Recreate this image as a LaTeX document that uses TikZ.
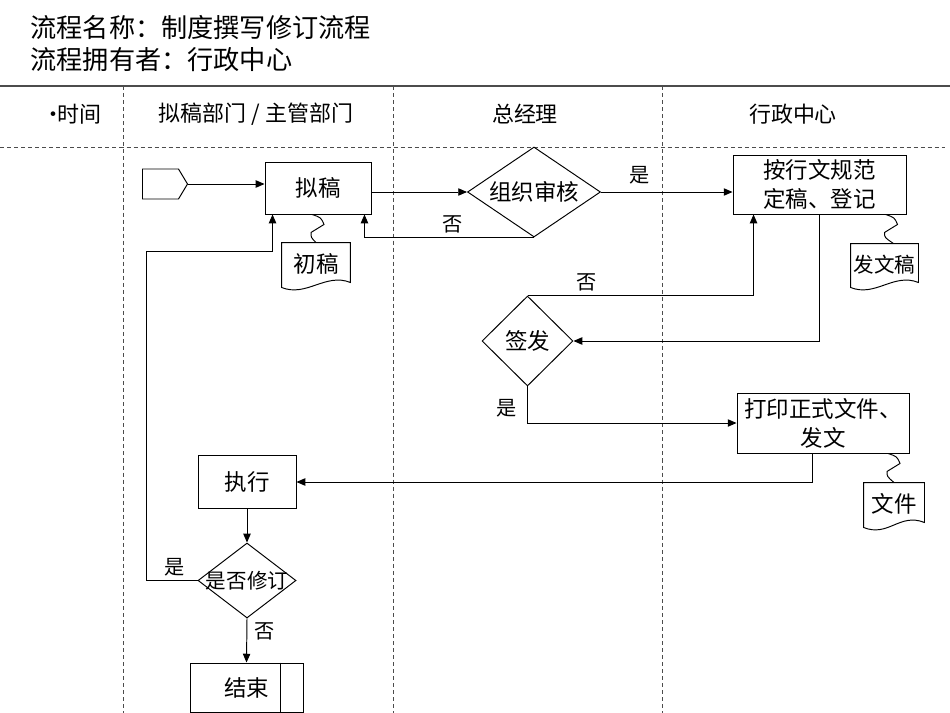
\documentclass[tikz,border=0pt]{standalone}
\usepackage{fontspec}
\setmainfont{Noto Sans CJK SC}
\usetikzlibrary{calc, positioning, arrows.meta, shapes.geometric, shapes.symbols}

\begin{document}
\begin{tikzpicture}[x=0.02cm, y=-0.02cm, line width=0.55pt,
  proc/.style={draw, rectangle, align=center, inner sep=1pt, font=\fontsize{12.8}{16.5}\selectfont},
  decision/.style={draw, diamond, inner sep=0pt, font=\fontsize{12.8}{16}\selectfont},
  doc/.style={inner sep=0pt, font=\fontsize{12.8}{15}\selectfont},
  lbl/.style={inner sep=1pt, font=\fontsize{11.5}{14}\selectfont},
  head/.style={inner sep=0pt, font=\fontsize{12.5}{15}\selectfont},
  lane/.style={gray!60!black, line width=0.5pt, dash pattern=on 2.3pt off 1.7pt},
  flow/.style={-{Triangle[length=5pt,width=4.2pt]}}]
\useasboundingbox (0,0) rectangle (950,713);
% Title
\node[anchor=west, inner sep=0pt, font=\fontsize{14.9}{18}\selectfont] (title) at (30,28) {流程名称：制度撰写修订流程};
\node[anchor=west, inner sep=0pt, font=\fontsize{14.9}{18}\selectfont] (owner) at (30,60) {流程拥有者：行政中心};
% Lanes
\draw[gray!60!black, line width=1pt] (0,86) -- (950,86);
\draw[lane] (0,147) -- (945,147);
\foreach \x in {123,393,662}
  \draw[lane] (\x,86) -- (\x,713);
\node[head] (h0) at (72,114) {•\kern-0.3em 时间};
\node[head] (h1) at (256,114) {拟稿部门 / 主管部门};
\node[head] (h2) at (525,114) {总经理};
\node[head] (h3) at (793,114) {行政中心};
% Steps
\node[draw, signal, signal to=east, signal pointer angle=118, minimum width=0.9cm, minimum height=0.6cm, inner sep=0pt] (start) at (160.5,184) {};
\node[proc, minimum width=2.12cm, minimum height=1.04cm] (nigao) at (318,188) {拟稿};
\node[decision, minimum width=2.66cm, minimum height=1.8cm] (shenhe) at (534,192) {\makebox[0pt]{组织审核}};
\node[proc, minimum width=3.46cm, minimum height=1.18cm] (dinggao) at (819.5,184.5) {按行文规范\\定稿、登记};
\node[decision, minimum width=1.82cm, minimum height=1.8cm] (qianfa) at (527.5,341) {\makebox[0pt]{签发}};
\node[proc, minimum width=3.44cm, minimum height=1.2cm] (dayin) at (823,423) {打印正式文件、\\发文};
\node[proc, minimum width=1.96cm, minimum height=1.06cm] (zhixing) at (247,482) {执行};
\node[decision, minimum width=1.96cm, minimum height=1.5cm, font=\fontsize{11.7}{14}\selectfont] (xiuding) at (247,580.5) {\makebox[0pt]{是否修订}};
\node[proc, minimum width=2.26cm, minimum height=0.98cm] (jieshu) at (246.5,687.5) {结束};
\draw ($(jieshu.north east)+(-23,0)$) -- ($(jieshu.south east)+(-23,0)$);
% Documents
\node[doc, minimum width=1.36cm, minimum height=0.84cm] (chugao) at (316,264) {初稿};
\node[doc, minimum width=1.34cm, minimum height=0.82cm, font=\fontsize{11.7}{14}\selectfont] (fawengao) at (884.5,264.5) {发文稿};
\node[doc, minimum width=1.2cm, minimum height=0.84cm] (wenjian) at (894,504) {文件};
\foreach \d in {chugao,fawengao,wenjian}
  \draw ($(\d.south west)+(0,2)$) -- (\d.north west) -- (\d.north east) -- ($(\d.south east)+(0,-3)$)
    .. controls ($(\d.south east)+(-25,-13)$) and ($(\d.south west)+(25,12)$) .. ($(\d.south west)+(0,2)$) -- cycle;
\coordinate (s1) at ($(nigao.south)+(-6,0)$);
\coordinate (e1) at (chugao.north);
\coordinate (s2) at ($(dinggao.south)+(66,0)$);
\coordinate (e2) at ($(fawengao.north)+(9,0)$);
\coordinate (s3) at ($(dayin.south)+(65,0)$);
\coordinate (e3) at (wenjian.north);
\foreach \i in {1,2,3}
  \draw (s\i) .. controls ($(s\i)+(9,3)$) .. ($(s\i)+(12,10)$) -- ($(s\i)+(-1,18)$)
    .. controls ($(s\i)+(-1,23)$) .. (e\i);
% Flow
\coordinate (turn) at (146,251);
\draw[flow] (start.east) -- (start.east -| nigao.west);
\draw[flow] (nigao.east |- shenhe.west) -- (shenhe.west);
\draw[flow] (shenhe.east) -- node[lbl, above=3pt, pos=0.29] {是} (shenhe.east -| dinggao.west);
\draw[flow] (shenhe.south) -| node[lbl, above=1pt, pos=0.24] {否} ($(nigao.south east)+(-7,0)$);
\draw[flow] (dinggao.south) |- (qianfa.east);
\draw[flow] (qianfa.north) -| node[lbl, above=1pt, pos=0.13] {否} ($(dinggao.south west)+(21,0)$);
\draw[flow] (qianfa.south) |- node[lbl, left=5pt, pos=0.3] {是} (dayin.west);
\draw[flow] ($(dayin.south)+(-11,0)$) |- (zhixing.east);
\draw[flow] (zhixing.south) -- (xiuding.north);
\draw[flow] (xiuding.west) -| node[lbl, above=1pt, pos=0.22] {是} (turn) -| ($(nigao.south west)+(8,0)$);
\draw[flow] (xiuding.south) -- node[lbl, right=3pt, pos=0.3] {否} (jieshu.north);
\end{tikzpicture}
\end{document}
